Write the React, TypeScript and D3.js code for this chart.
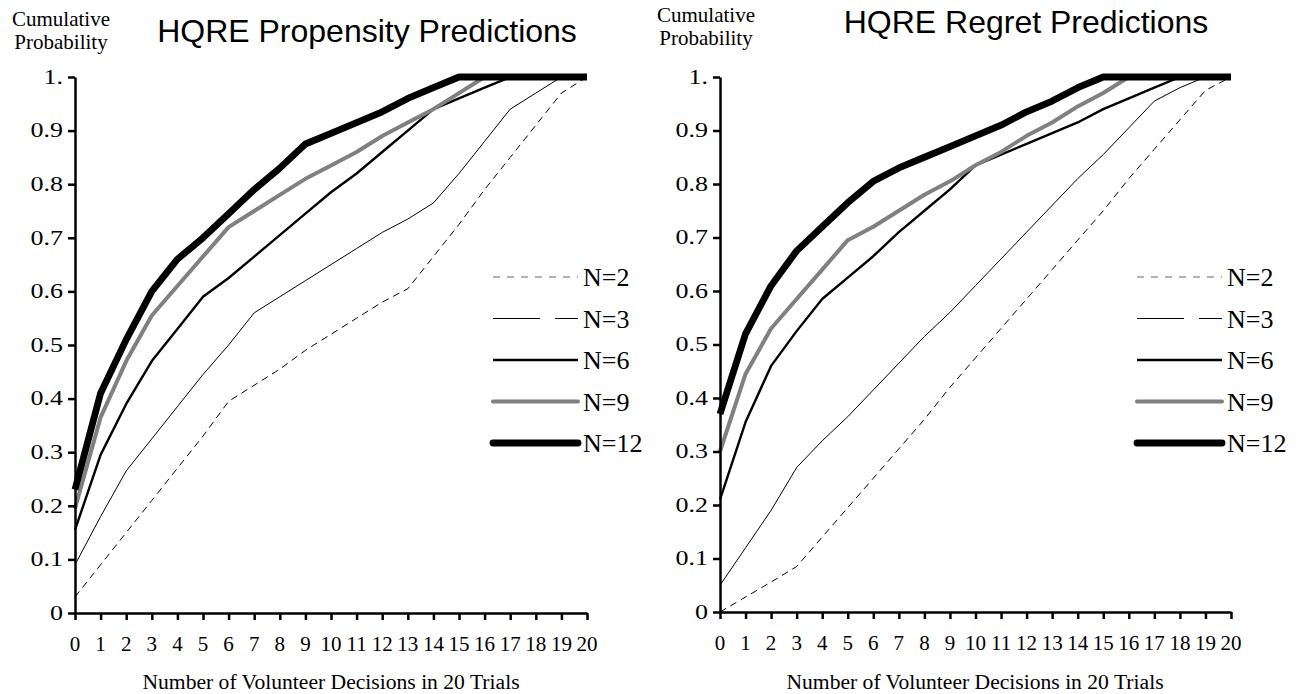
import React, { useEffect, useRef } from 'react';
import * as d3 from 'd3';

// number of volunteer decisions (x categories)
const trials = d3.range(0, 21);
const yTicks = [0, 0.1, 0.2, 0.3, 0.4, 0.5, 0.6, 0.7, 0.8, 0.9, 1];
const yTickLabels = ['0', '0.1', '0.2', '0.3', '0.4', '0.5', '0.6', '0.7', '0.8', '0.9', '1.'];
const groupNames = ['N=2', 'N=3', 'N=6', 'N=9', 'N=12'];

// HQRE propensity predictions
const propN2 = [0.03, 0.09, 0.15, 0.21, 0.27, 0.33, 0.395, 0.425, 0.455, 0.49, 0.52, 0.55, 0.58, 0.605, 0.665, 0.725, 0.79, 0.85, 0.91, 0.97, 1.0];
const propN3 = [0.09, 0.18, 0.265, 0.325, 0.385, 0.445, 0.5, 0.56, 0.59, 0.62, 0.65, 0.68, 0.71, 0.735, 0.765, 0.82, 0.88, 0.94, 0.97, 1.0, 1.0];
const propN6 = [0.155, 0.295, 0.39, 0.47, 0.53, 0.59, 0.625, 0.665, 0.705, 0.745, 0.785, 0.82, 0.86, 0.9, 0.94, 0.96, 0.98, 1.0, 1.0, 1.0, 1.0];
const propN9 = [0.195, 0.365, 0.47, 0.555, 0.61, 0.665, 0.72, 0.75, 0.78, 0.81, 0.835, 0.86, 0.89, 0.915, 0.94, 0.97, 1.0, 1.0, 1.0, 1.0, 1.0];
const propN12 = [0.23, 0.41, 0.51, 0.6, 0.66, 0.7, 0.745, 0.79, 0.83, 0.875, 0.895, 0.915, 0.935, 0.96, 0.98, 1.0, 1.0, 1.0, 1.0, 1.0, 1.0];

// HQRE regret predictions
const regN2 = [0.0, 0.028, 0.056, 0.085, 0.14, 0.195, 0.25, 0.305, 0.36, 0.42, 0.475, 0.53, 0.585, 0.64, 0.695, 0.75, 0.81, 0.865, 0.92, 0.975, 1.0];
const regN3 = [0.05, 0.12, 0.19, 0.27, 0.32, 0.365, 0.415, 0.465, 0.515, 0.56, 0.61, 0.66, 0.71, 0.76, 0.81, 0.855, 0.905, 0.955, 0.98, 1.0, 1.0];
const regN6 = [0.21, 0.355, 0.46, 0.525, 0.585, 0.625, 0.665, 0.71, 0.75, 0.79, 0.835, 0.855, 0.875, 0.895, 0.915, 0.94, 0.96, 0.98, 1.0, 1.0, 1.0];
const regN9 = [0.3, 0.445, 0.53, 0.585, 0.64, 0.695, 0.72, 0.75, 0.78, 0.805, 0.835, 0.86, 0.89, 0.915, 0.945, 0.97, 1.0, 1.0, 1.0, 1.0, 1.0];
const regN12 = [0.37, 0.52, 0.61, 0.675, 0.72, 0.765, 0.805, 0.83, 0.85, 0.87, 0.89, 0.91, 0.935, 0.955, 0.98, 1.0, 1.0, 1.0, 1.0, 1.0, 1.0];

const serif = '"Liberation Serif", "Times New Roman", serif';
const sans = '"Liberation Sans", Arial, sans-serif';

const lineStyles = [
  { color: '#000', legendColor: '#666', width: 1, dash: '7,5', legendDash: '7,7', cap: 'butt' },
  { color: '#000', legendColor: '#000', width: 1, dash: null, legendDash: '47,15', cap: 'butt' },
  { color: '#000', legendColor: '#000', width: 2.4, dash: null, legendDash: null, cap: 'butt' },
  { color: '#808080', legendColor: '#808080', width: 4, dash: null, legendDash: null, cap: 'round' },
  { color: '#000', legendColor: '#000', width: 6.8, dash: null, legendDash: null, cap: 'round' },
];

const App = () => {
  const svgRef = useRef(null);

  useEffect(() => {
    const svg = d3.select(svgRef.current);
    svg.selectAll('*').remove();

    const panels = [
      {
        title: 'HQRE Propensity Predictions', titleX: 367, titleY: 42,
        x0: 75, x1: 587, yTop: 77, yBot: 613,
        cumX: 61, cumY: [26, 49],
        legendX: 493, labelX: 331,
        series: [propN2, propN3, propN6, propN9, propN12],
      },
      {
        title: 'HQRE Regret Predictions', titleX: 1026, titleY: 33,
        x0: 720, x1: 1231, yTop: 77, yBot: 612,
        cumX: 706, cumY: [22, 45],
        legendX: 1137, labelX: 975,
        series: [regN2, regN3, regN6, regN9, regN12],
      },
    ];

    panels.forEach(p => {
      const g = svg.append('g');
      const x = d3.scaleLinear().domain([0, 20]).range([p.x0, p.x1]);
      const y = d3.scaleLinear().domain([0, 1]).range([p.yBot, p.yTop]);

      // title
      g.append('text')
        .attr('x', p.titleX).attr('y', p.titleY)
        .attr('text-anchor', 'middle')
        .attr('font-family', sans).attr('font-size', 32)
        .text(p.title);

      // y title
      ['Cumulative', 'Probability'].forEach((t, i) => {
        g.append('text')
          .attr('x', p.cumX).attr('y', p.cumY[i])
          .attr('text-anchor', 'middle')
          .attr('font-family', serif).attr('font-size', 21)
          .text(t);
      });

      // series lines
      const line = d3.line<number>()
        .x((d, i) => x(trials[i]))
        .y(d => y(d));

      p.series.forEach((vals, si) => {
        const st = lineStyles[si];
        g.append('path')
          .datum(vals)
          .attr('d', line)
          .attr('fill', 'none')
          .attr('stroke', st.color)
          .attr('stroke-width', st.width)
          .attr('stroke-linejoin', 'round')
          .attr('stroke-dasharray', st.dash)
          .attr('stroke-linecap', 'butt');
      });

      // axes
      const yAxis = g.append('g')
        .attr('transform', `translate(${p.x0},0)`)
        .call(d3.axisLeft(y).tickValues(yTicks).tickSize(7).tickSizeOuter(0).tickFormat(() => ''));
      const xAxis = g.append('g')
        .attr('transform', `translate(0,${p.yBot})`)
        .call(d3.axisBottom(x).tickValues(trials).tickSize(7).tickSizeOuter(0).tickFormat(() => ''));
      [yAxis, xAxis].forEach(a => {
        a.selectAll('path, line').attr('stroke', '#000').attr('stroke-width', 2.5);
      });

      // y tick labels (horizontally widened as in the original)
      yTicks.forEach((v, i) => {
        g.append('text')
          .attr('transform', `translate(${p.x0 - 12},${y(v) + 6.7}) scale(1.3,1)`)
          .attr('text-anchor', 'end')
          .attr('font-family', serif).attr('font-size', 20)
          .text(yTickLabels[i]);
      });

      // x tick labels
      trials.forEach(t => {
        g.append('text')
          .attr('x', x(t)).attr('y', p.yBot + 38)
          .attr('text-anchor', 'middle')
          .attr('font-family', serif).attr('font-size', 21)
          .text(t);
      });

      g.append('text')
        .attr('x', p.labelX).attr('y', 689)
        .attr('text-anchor', 'middle')
        .attr('font-family', serif).attr('font-size', 21.6)
        .text('Number of Volunteer Decisions in 20 Trials');

      // legend
      groupNames.forEach((name, i) => {
        const st = lineStyles[i];
        const ly = 277 + i * 41.5;
        g.append('line')
          .attr('x1', p.legendX).attr('x2', p.legendX + 85)
          .attr('y1', ly).attr('y2', ly)
          .attr('stroke', st.legendColor)
          .attr('stroke-width', st.width)
          .attr('stroke-linecap', st.cap)
          .attr('stroke-dasharray', st.legendDash);
        g.append('text')
          .attr('x', p.legendX + 90).attr('y', ly + 9)
          .attr('font-family', serif).attr('font-size', 26)
          .text(name);
      });
    });
  }, []);

  return (
    <svg
      ref={svgRef}
      width={1301}
      height={694}
      style={{ position: 'absolute', left: 0, top: 0, background: '#fff' }}
    />
  );
};

export default App;
